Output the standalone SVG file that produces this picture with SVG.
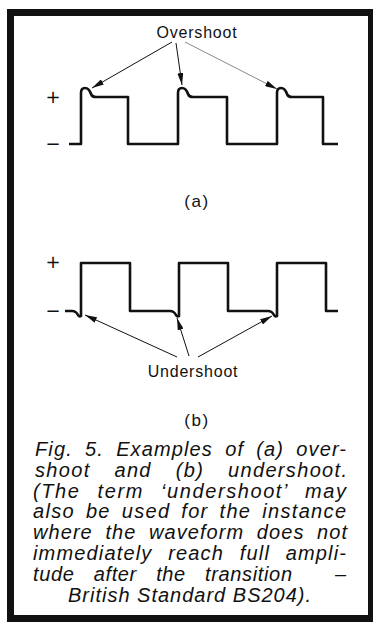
<svg xmlns="http://www.w3.org/2000/svg" width="375" height="622" viewBox="0 0 375 622">
<defs>
<style>
.lbl{font-family:"Liberation Sans","DejaVu Sans",sans-serif;font-size:16px;letter-spacing:0.8px;fill:#111;}
.sub{font-family:"Liberation Sans","DejaVu Sans",sans-serif;font-size:17px;letter-spacing:1.5px;fill:#111;}
.sign{font-family:"DejaVu Sans","Liberation Sans",sans-serif;font-size:18px;fill:#111;}
.cap{font-family:"Liberation Sans",Arial,sans-serif;font-style:italic;font-size:20px;letter-spacing:1px;fill:#111;}
.wave{fill:none;stroke:#111;stroke-width:2.6;stroke-linejoin:round;stroke-linecap:butt;}
.arr{fill:none;stroke:#111;stroke-width:1;marker-end:url(#ah);}
</style>
<marker id="ah" viewBox="0 0 12 6" refX="12" refY="3" markerWidth="12" markerHeight="6" markerUnits="userSpaceOnUse" orient="auto">
<path d="M0,0 L12,3 L0,6 Z" fill="#111"/>
</marker>
</defs>
<rect width="375" height="622" fill="#fff"/>
<g id="frame">
<path d="M7,9 H373 V622 H7 Z M14,16 V615 H368 V16 Z" fill="#111" fill-rule="evenodd"/>
</g>
<g id="waveform-a">
<path class="wave" d="M69,144 H81 V93 Q81,88 85,88 Q89,88 91,94 Q92,97 96,97 H128 V144 H178 V93 Q178,88 182,88 Q186,88 188,94 Q189,97 193,97 H227 V144 H277 V93 Q277,88 281,88 Q285,88 287,94 Q288,97 292,97 H323 V144 H338"/>
<text class="sign" x="53" y="103" text-anchor="middle">+</text>
<text class="sign" x="53" y="150" text-anchor="middle">−</text>
<text id="overshoot" class="lbl" x="197" y="38" text-anchor="middle">Overshoot</text>
<text id="label-a" class="sub" x="197" y="207" text-anchor="middle">(a)</text>
</g>
<g id="waveform-b">
<path class="wave" d="M65,311 H72 Q76,311 78,315 Q79,317 81,316 V263 H130 V311 H170 Q174,311 176,315 Q177,317 179,316 V263 H228 V311 H268 Q272,311 274,315 Q275,317 277,316 V263 H326 V311 H338"/>
<text class="sign" x="53" y="268" text-anchor="middle">+</text>
<text class="sign" x="53" y="317" text-anchor="middle">−</text>
<text id="undershoot" class="lbl" x="193" y="377" text-anchor="middle">Undershoot</text>
<text id="label-b" class="sub" x="197" y="426" text-anchor="middle">(b)</text>
</g>
<g id="connectors">
<line class="arr" x1="172" y1="42" x2="92" y2="88"/>
<line class="arr" x1="176" y1="43" x2="182" y2="85"/>
<line class="arr" x1="185" y1="42" x2="277" y2="89" style="stroke:#888"/>
<line class="arr" x1="177" y1="357" x2="85" y2="315"/>
<line class="arr" x1="189" y1="356" x2="177" y2="318"/>
<line class="arr" x1="198" y1="357" x2="272" y2="316"/>
</g>
<g id="caption">
<text class="cap" x="35" y="456" textLength="312" lengthAdjust="spacing" style="word-spacing:5.5px">Fig. 5. Examples of (a) over-</text>
<text class="cap" x="35" y="477" textLength="313" lengthAdjust="spacing" style="word-spacing:17px">shoot and (b) undershoot.</text>
<text class="cap" x="33" y="497.6" textLength="314" lengthAdjust="spacing" style="word-spacing:10px">(The term ‘undershoot’ may</text>
<text class="cap" x="33" y="518.4" textLength="314" lengthAdjust="spacing" style="word-spacing:4px">also be used for the instance</text>
<text class="cap" x="33" y="539.2" textLength="315" lengthAdjust="spacing" style="word-spacing:6px">where the waveform does not</text>
<text class="cap" x="33" y="560" textLength="314" lengthAdjust="spacing" style="word-spacing:9px">immediately reach full ampli-</text>
<text class="cap" x="33" y="580.8" textLength="260" lengthAdjust="spacing" style="word-spacing:13px">tude after the transition</text>
<text class="cap" x="347" y="580.8" text-anchor="end">–</text>
<text class="cap" x="190" y="601.6" text-anchor="middle">British Standard BS204).</text>
</g>
</svg>
